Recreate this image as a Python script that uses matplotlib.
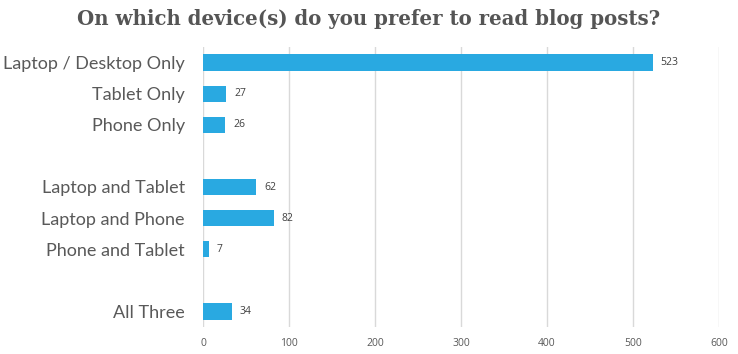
import numpy as np
import matplotlib.pyplot as plt

# datos
categorias = ['Laptop / Desktop Only', 'Tablet Only', 'Phone Only', '',
              'Laptop and Tablet', 'Laptop and Phone', 'Phone and Tablet', '',
              'All Three']
valores = [523, 27, 26, None, 62, 82, 7, None, 34]
ticks_x = [0, 100, 200, 300, 400, 500, 600]

fig = plt.figure(figsize=(7.38, 3.54), dpi=100)
ax = fig.add_axes([203/738, 1 - 327/354, (719 - 203)/738, (327 - 47)/354])

pos = np.arange(len(categorias))
for i, v in enumerate(valores):
    if v is None:
        continue
    ax.barh(pos[i], v, height=0.52, color='#29A9E1', zorder=3)
    ax.text(v + 9, pos[i], str(v), va='center', ha='left', fontsize=7.5,
            color='#404040', family='Open Sans')

ax.set_ylim(len(categorias) - 0.5, -0.5)
ax.set_xlim(0, 600)
ax.set_xticks(ticks_x)
ax.set_xticklabels([str(t) for t in ticks_x], fontsize=7.5, color='#595959', family='Open Sans')
ax.set_yticks(pos)
ax.set_yticklabels(categorias, fontsize=13, color='#595959', family='Lato')
ax.tick_params(axis='both', length=0)
ax.tick_params(axis='y', pad=13)
ax.tick_params(axis='x', pad=8)
ax.grid(axis='x', color='#d9d9d9', linewidth=1, zorder=0)
for s in ax.spines.values():
    s.set_visible(False)

fig.suptitle('On which device(s) do you prefer to read blog posts?', x=0.5, y=0.975,
             fontsize=14.2, fontweight='bold', color='#555555', family='DejaVu Serif')

fig.savefig('out.png', dpi=100)
